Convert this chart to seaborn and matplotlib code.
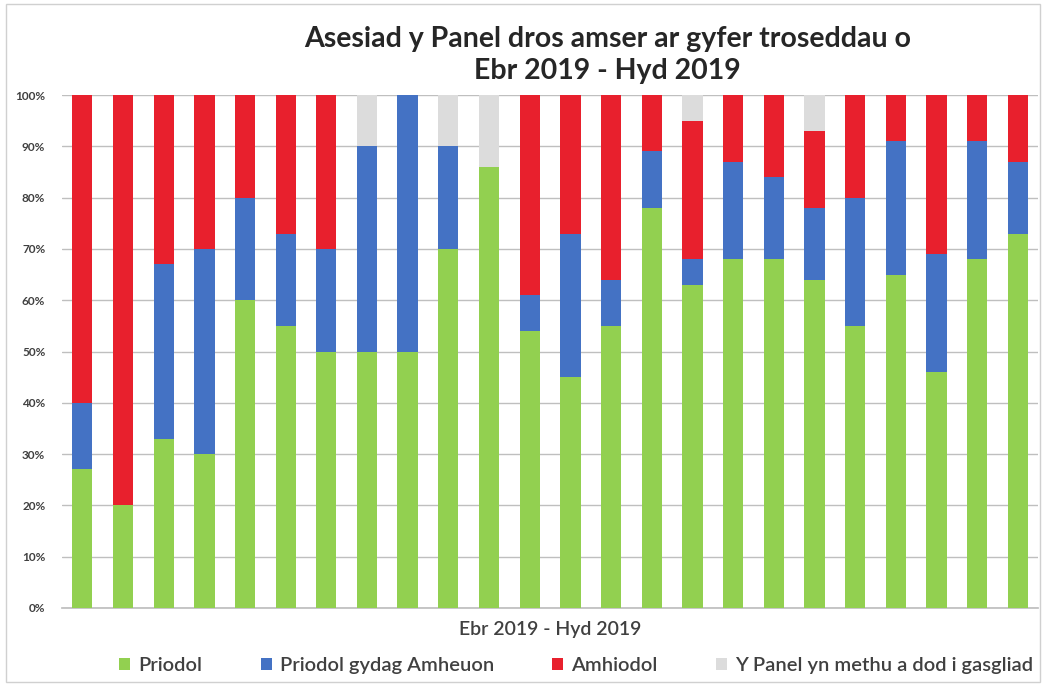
import matplotlib
matplotlib.use("Agg")
import matplotlib.pyplot as plt
import seaborn as sns
import pandas as pd
import numpy as np
from matplotlib.patches import Patch, Rectangle

categories = [str(i) for i in range(1, 25)]
priodol = [27, 20, 33, 30, 60, 55, 50, 50, 50, 70, 86, 54, 45, 55, 78, 63, 68, 68, 64, 55, 65, 46, 68, 73]
amheuon = [13, 0, 34, 40, 20, 18, 20, 40, 50, 20, 0, 7, 28, 9, 11, 5, 19, 16, 14, 25, 26, 23, 23, 14]
amhriodol = [60, 80, 33, 30, 20, 27, 30, 0, 0, 0, 0, 39, 27, 36, 11, 27, 13, 16, 15, 20, 9, 31, 9, 13]
methu = [0, 0, 0, 0, 0, 0, 0, 10, 0, 10, 14, 0, 0, 0, 0, 5, 0, 0, 7, 0, 0, 0, 0, 0]

series_names = ["Priodol", "Priodol gydag Amheuon", "Amhiodol", "Y Panel yn methu a dod i gasgliad"]
colors = ["#92D050", "#4472C4", "#E8202D", "#DCDCDC"]
yticklabels = ["0%", "10%", "20%", "30%", "40%", "50%", "60%", "70%", "80%", "90%", "100%"]

title = "Asesiad y Panel dros amser ar gyfer troseddau o\nEbr 2019 - Hyd 2019"
xlabel = "Ebr 2019 - Hyd 2019"

df = pd.DataFrame({"cat": categories, "g": priodol, "b": amheuon, "r": amhriodol, "n": methu})
df["c1"] = df["g"]
df["c2"] = df["g"] + df["b"]
df["c3"] = df["c2"] + df["r"]
df["c4"] = df["c3"] + df["n"]

sns.set_theme(style="white")
plt.rcParams["font.family"] = ["Lato", "DejaVu Sans"]

fig = plt.figure(figsize=(10.44, 6.85), dpi=100)
ax = fig.add_axes([62 / 1044, (685 - 608) / 685, (1038 - 62) / 1044, (608 - 95) / 685])

for col, color in zip(["c4", "c3", "c2", "c1"], colors[::-1]):
    sns.barplot(data=df, x="cat", y=col, color=color, saturation=1, width=0.5, linewidth=0, ax=ax, zorder=3)

ax.set_ylim(0, 100)
ax.set_xlim(-0.5, len(categories) - 0.5)
ax.set_yticks(np.arange(0, 101, 10))
ax.set_yticklabels(yticklabels, fontsize=8.5, color="#404040", fontweight="bold")
ax.set_xticks([])
ax.set_ylabel("")
ax.set_xlabel(xlabel, fontsize=14, color="#404040", labelpad=9, fontweight="semibold")
ax.yaxis.grid(True, color="#BFBFBF", linewidth=1, zorder=0)
ax.set_axisbelow(True)
for s in ["top", "right", "left"]:
    ax.spines[s].set_visible(False)
ax.spines["bottom"].set_color("#BFBFBF")
ax.tick_params(axis="y", length=0, pad=12)

fig.suptitle(title, x=0.582, y=0.962, fontsize=20.5, fontweight="bold", color="#262626", linespacing=1.3)

handles = [Patch(facecolor=c, edgecolor="none") for c in colors]
fig.legend(handles, series_names, loc="center", bbox_to_anchor=(0.552, 0.028), ncol=4, frameon=False,
           handlelength=0.55, handleheight=0.55, handletextpad=0.4, columnspacing=2.9,
           labelcolor="#404040", prop={"weight": "semibold", "size": 14.5})

fig.add_artist(Rectangle((0.006, 0.004), 0.99, 0.99, transform=fig.transFigure, fill=False,
                         edgecolor="#D0D0D0", linewidth=1))

fig.savefig("out.png", dpi=100)
